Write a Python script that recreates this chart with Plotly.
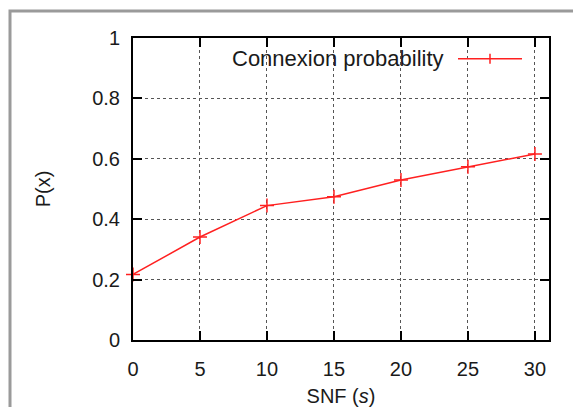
import plotly.graph_objects as go

snf = [0, 5, 10, 15, 20, 25, 30]
prob = [0.217, 0.341, 0.445, 0.474, 0.530, 0.574, 0.616]
x_ticks = [0, 5, 10, 15, 20, 25, 30]
y_ticks = [0, 0.2, 0.4, 0.6, 0.8, 1]
y_tick_text = ["0", "0.2", "0.4", "0.6", "0.8", "1"]
series_name = "Connexion probability"

W, H = 573, 407
L, R, T, B = 133, 549, 38, 340
pw, ph = R - L, B - T

def px(x):
    return (x - L) / pw

def py(y):
    return (B - y) / ph

font = "Liberation Sans, Arial, sans-serif"
red = "#ff2020"

fig = go.Figure()
fig.add_trace(go.Scatter(
    x=snf, y=prob, mode="lines+markers", name=series_name,
    line=dict(color=red, width=1.5),
    marker=dict(symbol="cross-thin", size=10, line=dict(color=red, width=1.5), color=red),
    cliponaxis=False, showlegend=False,
))

shapes = []
# outer gray frame
shapes.append(dict(type="rect", xref="paper", yref="paper",
                   x0=px(10), x1=px(640), y0=py(470), y1=py(11),
                   line=dict(color="#9a9a9a", width=3), fillcolor="rgba(0,0,0,0)", layer="below"))
# legend background (white, covers grid)
shapes.append(dict(type="rect", xref="paper", yref="paper",
                   x0=px(190), x1=px(528), y0=py(72), y1=py(T + 1),
                   line=dict(width=0), fillcolor="white", layer="between"))
# legend sample line
ly = 58.7
shapes.append(dict(type="line", xref="paper", yref="paper",
                   x0=px(458), x1=px(522), y0=py(ly), y1=py(ly),
                   line=dict(color=red, width=1.5)))
shapes.append(dict(type="line", xref="paper", yref="paper",
                   x0=px(490), x1=px(490), y0=py(ly - 5), y1=py(ly + 5),
                   line=dict(color=red, width=1.5)))

fig.update_layout(
    width=W, height=H,
    margin=dict(l=L, r=W - R, t=T, b=H - B, autoexpand=False),
    paper_bgcolor="white", plot_bgcolor="white",
    font=dict(family=font, size=20, color="#1a1a1a"),
    shapes=shapes,
    annotations=[dict(text=series_name, xref="paper", yref="paper",
                      x=px(446), y=py(ly), xanchor="right", yanchor="middle",
                      showarrow=False, font=dict(family=font, size=22, color="#1a1a1a"))],
    xaxis=dict(range=[0, 31.05], tickvals=x_ticks, ticks="inside", ticklen=9, tickwidth=2,
               tickcolor="black", showline=True, linecolor="black", linewidth=2, mirror="ticks",
               showgrid=True, gridcolor="#555", griddash="dot", gridwidth=1, zeroline=False,
               ticklabelstandoff=10, automargin=False,
               title=dict(text="SNF (<i>s</i>)", font=dict(size=20), standoff=16)),
    yaxis=dict(range=[0, 1], tickvals=y_ticks, ticktext=y_tick_text, ticks="inside", ticklen=9,
               tickwidth=2, tickcolor="black", showline=True, linecolor="black", linewidth=2,
               mirror="ticks", showgrid=True, gridcolor="#555", griddash="dot", gridwidth=1,
               zeroline=False, ticklabelstandoff=7, automargin=False,
               title=dict(text="P(x)", font=dict(size=20), standoff=36)),
)

fig.write_html("out.html", config={"displayModeBar": False},
               post_script="document.body.style.margin='0px';")
